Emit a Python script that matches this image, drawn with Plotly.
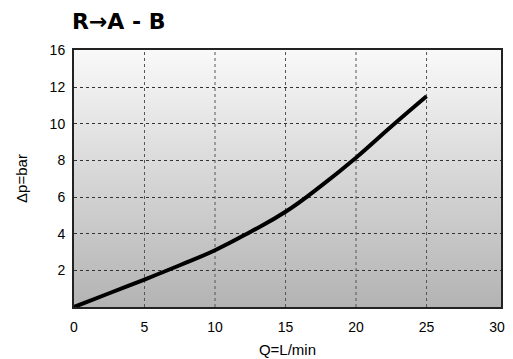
import base64
import plotly.graph_objects as go

# Flow vs. pressure-drop curve, port R -> A - B
flow_lpm = [0, 2.5, 5, 7.5, 10, 12.5, 15, 17.5, 20, 22.5, 25]
dp_bar = [0, 0.75, 1.5, 2.28, 3.1, 4.1, 5.2, 6.6, 8.15, 9.85, 11.5]

x_ticks = [0, 5, 10, 15, 20, 25, 30]
x_grid = [5, 10, 15, 20, 25]
y_ticks = [2, 4, 6, 8, 10, 12, 14]
y_tick_text = ["2", "4", "6", "8", "10", "12", "16"]

X_MAX = 30.28
Y_MAX = 14.03

# vertical grey gradient for the plotting area
svg = (
    '<svg xmlns="http://www.w3.org/2000/svg" width="10" height="100" '
    'preserveAspectRatio="none">'
    '<defs><linearGradient id="g" x1="0" y1="0" x2="0" y2="1">'
    '<stop offset="0" stop-color="#f9f9f9"/>'
    '<stop offset="1" stop-color="#b3b3b3"/>'
    '</linearGradient></defs>'
    '<rect width="10" height="100" fill="url(#g)"/></svg>'
)
bg_src = "data:image/svg+xml;base64," + base64.b64encode(svg.encode()).decode()

fig = go.Figure()
fig.add_trace(go.Scatter(
    x=flow_lpm, y=dp_bar, mode="lines",
    line=dict(color="black", width=4, shape="spline", smoothing=1.3),
    hoverinfo="skip", showlegend=False,
))

fig.add_layout_image(dict(
    source=bg_src, xref="x domain", yref="y domain",
    x=0, y=1, sizex=1, sizey=1, xanchor="left", yanchor="top",
    sizing="stretch", layer="below",
))

for gx in x_grid:
    fig.add_shape(
        type="line", xref="x", yref="y", x0=gx, x1=gx, y0=0, y1=Y_MAX,
        line=dict(color="#555555", width=1, dash="dot"), layer="between",
    )

font_main = "Liberation Sans, Arial, sans-serif"

fig.update_layout(
    width=513, height=359,
    margin=dict(l=74, r=12, t=50, b=52),
    paper_bgcolor="white", plot_bgcolor="white",
    font=dict(family=font_main, size=13, color="black"),
    title=dict(
        text="<b>R→A - B</b>",
        x=72 / 513, xanchor="left", xref="container",
        y=1 - 21 / 359, yanchor="middle", yref="container",
        font=dict(family="DejaVu Sans", size=22, color="black"),
    ),
    xaxis=dict(
        range=[0, X_MAX], tickvals=x_ticks, ticktext=[str(v) for v in x_ticks],
        showgrid=False, zeroline=False, automargin=False,
        showline=True, linecolor="#222222", linewidth=2, mirror=True,
        ticks="", ticklabelstandoff=6,
        title=dict(text="Q=L/min", font=dict(size=15), standoff=11),
        tickfont=dict(size=14),
    ),
    yaxis=dict(
        range=[0, Y_MAX], tickvals=y_ticks, ticktext=y_tick_text,
        showgrid=True, gridcolor="#333333", gridwidth=1, griddash="dot",
        zeroline=False, automargin=False,
        showline=True, linecolor="#222222", linewidth=2, mirror=True,
        ticks="", ticklabelstandoff=4,
        title=dict(text="Δp=bar", font=dict(size=15), standoff=18),
        tickfont=dict(size=14),
    ),
)

fig.write_html("out.html")
